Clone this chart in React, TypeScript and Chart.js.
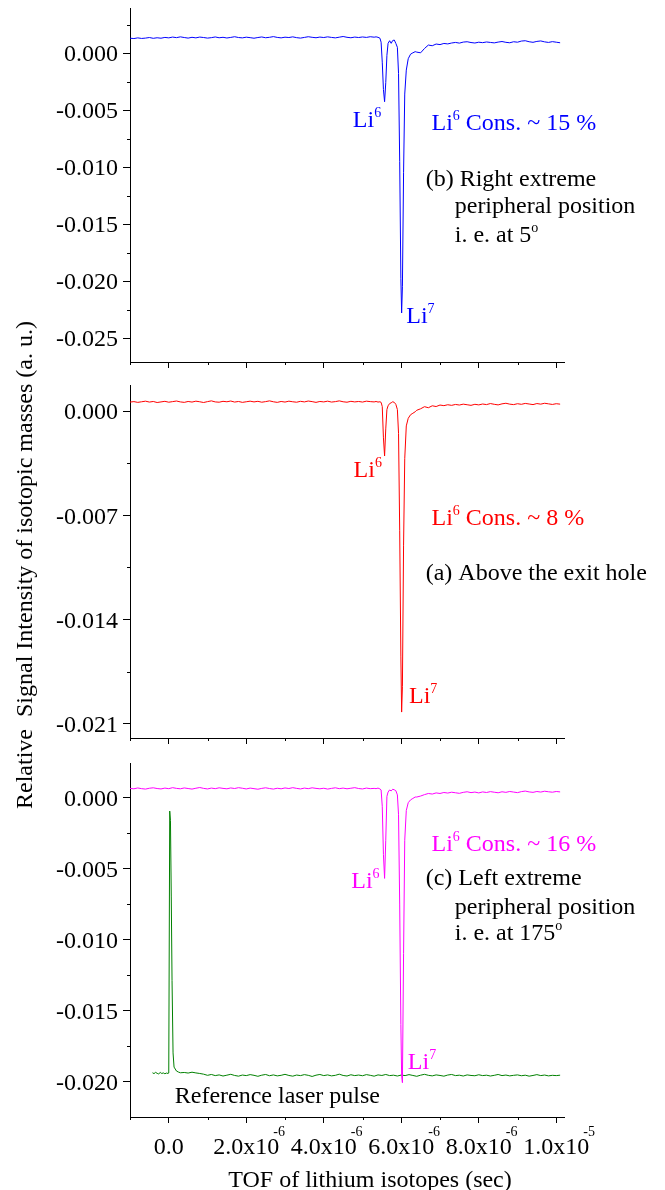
import React, { useEffect, useRef } from 'react';
import { Chart, registerables } from 'chart.js';

Chart.register(...registerables);

const FONT = '"Liberation Serif", "Times New Roman", serif';
const BLUE = '#0000ff';
const RED = '#ff0000';
const MAGENTA = '#ff00ff';
const GREEN = '#008000';
const BLACK = '#000000';

// Time of flight in microseconds (shared by the three isotope traces)
const TIME_US = [
  -1.0, -0.9, -0.8, -0.7, -0.6, -0.5, -0.4, -0.3, -0.2, -0.1,
  0.0, 0.1, 0.2, 0.3, 0.4, 0.5, 0.6, 0.7, 0.8, 0.9,
  1.0, 1.1, 1.2, 1.3, 1.4, 1.5, 1.6, 1.7, 1.8, 1.9,
  2.0, 2.1, 2.2, 2.3, 2.4, 2.5, 2.6, 2.7, 2.8, 2.9,
  3.0, 3.1, 3.2, 3.3, 3.4, 3.5, 3.6, 3.7, 3.8, 3.9,
  4.0, 4.1, 4.2, 4.3, 4.4, 4.5, 4.6, 4.7, 4.8, 4.9,
  5.0, 5.1, 5.2, 5.3,
  5.35, 5.40, 5.45, 5.48, 5.51, 5.54, 5.57, 5.60, 5.63, 5.66,
  5.70, 5.74, 5.78, 5.82, 5.86, 5.90, 5.93, 5.96, 5.99, 6.01,
  6.03, 6.06, 6.09, 6.13, 6.18, 6.24, 6.30, 6.36,
  6.4, 6.5, 6.6, 6.7, 6.8, 6.9, 7.0, 7.1, 7.2, 7.3,
  7.4, 7.5, 7.6, 7.7, 7.8, 7.9, 8.0, 8.1, 8.2, 8.3,
  8.4, 8.5, 8.6, 8.7, 8.8, 8.9, 9.0, 9.1, 9.2, 9.3,
  9.4, 9.5, 9.6, 9.7, 9.8, 9.9, 10.0, 10.1,
];

// (b) Right extreme peripheral position, signal in units of 1e-3
const SIGNAL_B = [
  1.30, 1.27, 1.33, 1.28, 1.31, 1.36, 1.29, 1.34, 1.30, 1.37,
  1.33, 1.40, 1.35, 1.42, 1.36, 1.31, 1.38, 1.33, 1.40, 1.36,
  1.31, 1.35, 1.41, 1.34, 1.38, 1.32, 1.37, 1.43, 1.36, 1.33,
  1.39, 1.35, 1.30, 1.36, 1.41, 1.34, 1.38, 1.44, 1.37, 1.33,
  1.39, 1.36, 1.42, 1.35, 1.31, 1.37, 1.43, 1.38, 1.34, 1.40,
  1.36, 1.42, 1.37, 1.33, 1.39, 1.45, 1.38, 1.34, 1.40, 1.36,
  1.41, 1.37, 1.43, 1.39,
  1.42, 1.38, 1.30, 0.95, -0.80, -3.20, -4.27, -2.60, -0.20, 0.85,
  1.08, 0.85, 1.10, 1.14, 0.85, 0.50, -1.80, -9.50, -19.80, -22.80,
  -20.50, -10.50, -3.60, -1.50, -0.50, -0.10, 0.02, 0.12,
  0.08, 0.02, 0.40, 0.70, 0.64, 0.79, 0.74, 0.84, 0.80, 0.88,
  0.93, 0.87, 0.96, 0.99, 0.92, 0.88, 0.95, 0.91, 0.97, 0.93,
  0.89, 0.96, 1.01, 0.94, 0.90, 0.99, 0.95, 1.05, 1.08, 0.99,
  0.94, 1.02, 1.06, 0.98, 0.93, 1.00, 0.95, 0.90,
];

// (a) Above the exit hole
const SIGNAL_A = [
  0.60, 0.63, 0.58, 0.62, 0.66, 0.60, 0.64, 0.57, 0.61, 0.65,
  0.59, 0.63, 0.67, 0.61, 0.58, 0.64, 0.60, 0.66, 0.62, 0.57,
  0.63, 0.68, 0.61, 0.59, 0.65, 0.62, 0.67, 0.60, 0.64, 0.58,
  0.62, 0.66, 0.61, 0.65, 0.59, 0.63, 0.68, 0.62, 0.58, 0.64,
  0.60, 0.66, 0.62, 0.59, 0.65, 0.61, 0.67, 0.63, 0.58, 0.64,
  0.61, 0.66, 0.60, 0.63, 0.68, 0.62, 0.59, 0.65, 0.61, 0.64,
  0.60, 0.66, 0.63, 0.61,
  0.64, 0.60, 0.62, 0.58, 0.30, -1.80, -3.02, -1.20, 0.10, 0.35,
  0.50, 0.55, 0.62, 0.58, 0.45, 0.10, -1.50, -8.00, -16.50, -20.20,
  -18.50, -9.00, -3.20, -1.00, -0.49, -0.25, -0.15, -0.05,
  0.05, 0.15, 0.29, 0.22, 0.35, 0.30, 0.40, 0.36, 0.42, 0.38,
  0.44, 0.40, 0.46, 0.42, 0.38, 0.45, 0.41, 0.47, 0.43, 0.50,
  0.45, 0.41, 0.48, 0.52, 0.46, 0.43, 0.49, 0.45, 0.51, 0.47,
  0.43, 0.50, 0.46, 0.52, 0.48, 0.44, 0.49, 0.46,
];

// (c) Left extreme peripheral position
const SIGNAL_C = [
  0.66, 0.63, 0.69, 0.64, 0.61, 0.67, 0.70, 0.65, 0.62, 0.68,
  0.64, 0.71, 0.66, 0.63, 0.69, 0.65, 0.61, 0.67, 0.72, 0.66,
  0.62, 0.68, 0.64, 0.70, 0.66, 0.63, 0.69, 0.65, 0.71, 0.67,
  0.62, 0.68, 0.64, 0.60, 0.66, 0.70, 0.65, 0.61, 0.67, 0.63,
  0.69, 0.65, 0.71, 0.66, 0.62, 0.68, 0.64, 0.70, 0.66, 0.63,
  0.67, 0.61, 0.66, 0.70, 0.64, 0.68, 0.63, 0.67, 0.71, 0.65,
  0.62, 0.68, 0.64, 0.66,
  0.64, 0.68, 0.62, 0.55, -0.60, -4.00, -5.69, -3.00, 0.10, 0.40,
  0.55, 0.48, 0.60, 0.56, 0.50, 0.20, -1.20, -7.50, -16.00, -19.60,
  -20.10, -11.00, -3.00, -0.90, -0.35, -0.15, -0.05, 0.05,
  0.05, 0.12, 0.22, 0.30, 0.26, 0.34, 0.30, 0.37, 0.33, 0.39,
  0.35, 0.31, 0.38, 0.42, 0.36, 0.40, 0.34, 0.41, 0.37, 0.43,
  0.39, 0.35, 0.42, 0.38, 0.44, 0.40, 0.36, 0.43, 0.47, 0.41,
  0.38, 0.44, 0.40, 0.46, 0.42, 0.39, 0.44, 0.41,
];

// Reference laser pulse
const PULSE_TIME_US = [
  -0.42, -0.38, -0.34, -0.30, -0.26, -0.22, -0.18, -0.14, -0.10, -0.06,
  -0.02, 0.00, 0.025, 0.044, 0.065, 0.085, 0.111, 0.137, 0.20, 0.25, 0.30,
  0.4, 0.5, 0.6, 0.7, 0.8, 0.9,
  1.0, 1.1, 1.2, 1.3, 1.4, 1.5, 1.6, 1.7, 1.8, 1.9,
  2.0, 2.1, 2.2, 2.3, 2.4, 2.5, 2.6, 2.7, 2.8, 2.9,
  3.0, 3.1, 3.2, 3.3, 3.4, 3.5, 3.6, 3.7, 3.8, 3.9,
  4.0, 4.1, 4.2, 4.3, 4.4, 4.5, 4.6, 4.7, 4.8, 4.9,
  5.0, 5.1, 5.2, 5.3, 5.4, 5.5, 5.6, 5.7, 5.8, 5.9,
  6.0, 6.1, 6.2, 6.3, 6.4, 6.5, 6.6, 6.7, 6.8, 6.9,
  7.0, 7.1, 7.2, 7.3, 7.4, 7.5, 7.6, 7.7, 7.8, 7.9,
  8.0, 8.1, 8.2, 8.3, 8.4, 8.5, 8.6, 8.7, 8.8, 8.9,
  9.0, 9.1, 9.2, 9.3, 9.4, 9.5, 9.6, 9.7, 9.8, 9.9,
  10.0, 10.1,
];
const PULSE_SIGNAL = [
  -19.40, -19.46, -19.37, -19.44, -19.48, -19.38, -19.45, -19.41, -19.47, -19.42,
  -19.45, -19.42, -0.94, -1.60, -7.00, -12.90, -18.00, -19.00, -19.28, -19.35, -19.40,
  -19.38, -19.42, -19.36, -19.41, -19.45, -19.50,
  -19.58, -19.52, -19.60, -19.55, -19.63, -19.57, -19.51, -19.59, -19.64, -19.56,
  -19.60, -19.53, -19.58, -19.65, -19.57, -19.52, -19.61, -19.55, -19.62, -19.58,
  -19.51, -19.59, -19.64, -19.56, -19.60, -19.53, -19.58, -19.66, -19.57, -19.52,
  -19.60, -19.55, -19.62, -19.58, -19.50, -19.59, -19.63, -19.54, -19.60, -19.56,
  -19.61, -19.53, -19.58, -19.64, -19.55, -19.59, -19.52, -19.60, -19.57, -19.63,
  -19.56, -19.60, -19.53, -19.59, -19.65, -19.57, -19.51, -19.58, -19.62, -19.55,
  -19.59, -19.64, -19.56, -19.52, -19.60, -19.57, -19.63, -19.55, -19.59, -19.61,
  -19.54, -19.60, -19.57, -19.63, -19.58, -19.52, -19.60, -19.56, -19.62, -19.58,
  -19.55, -19.61, -19.57, -19.64, -19.59, -19.53, -19.60, -19.56, -19.62, -19.58,
  -19.60, -19.57,
];

// Axis ticks
const X_MAJOR = [0, 2, 4, 6, 8, 10];
const X_MINOR = [-1, 1, 3, 5, 7, 9];
const X_TICK_BASE = ['0.0', '2.0x10', '4.0x10', '6.0x10', '8.0x10', '1.0x10'];
const X_TICK_EXP = ['', '-6', '-6', '-6', '-6', '-5'];
const Y_TICKS_B = [0, -5, -10, -15, -20, -25];
const Y_MINOR_B = [2.5, -2.5, -7.5, -12.5, -17.5, -22.5];
const Y_TICKS_A = [0, -7, -14, -21];
const Y_MINOR_A = [-3.5, -10.5, -17.5];
const Y_TICKS_C = [0, -5, -10, -15, -20];
const Y_MINOR_C = [-2.5, -7.5, -12.5, -17.5];

type Part = [string, boolean?];
interface Note { x: number; y: number; color: string; parts: Part[] }
interface Series { t: number[]; v: number[]; color: string }
interface Panel {
  top: number; height: number; padTop: number; xAxisH: number;
  yMin: number; yMax: number; yTicks: number[]; yMinor: number[];
  series: Series[]; notes: Note[]; xLabels: boolean;
}

const PANELS: Panel[] = [
  {
    top: 0, height: 385, padTop: 8, xAxisH: 23,
    yMin: -27.1, yMax: 3.95, yTicks: Y_TICKS_B, yMinor: Y_MINOR_B,
    series: [{ t: TIME_US, v: SIGNAL_B, color: BLUE }],
    xLabels: false,
    notes: [
      { x: 4.75, y: -6.5, color: BLUE, parts: [['Li'], ['6', true]] },
      { x: 6.78, y: -6.75, color: BLUE, parts: [['Li'], ['6', true], [' Cons. ~ 15 %']] },
      { x: 6.63, y: -11.64, color: BLACK, parts: [['(b) Right extreme']] },
      { x: 7.38, y: -14.06, color: BLACK, parts: [['peripheral position']] },
      { x: 7.38, y: -16.55, color: BLACK, parts: [['i. e. at 5'], ['o', true]] },
      { x: 6.13, y: -23.71, color: BLUE, parts: [['Li'], ['7', true]] },
    ],
  },
  {
    top: 375, height: 385, padTop: 10, xAxisH: 22,
    yMin: -21.94, yMax: 1.745, yTicks: Y_TICKS_A, yMinor: Y_MINOR_A,
    series: [{ t: TIME_US, v: SIGNAL_A, color: RED }],
    xLabels: false,
    notes: [
      { x: 4.77, y: -4.45, color: RED, parts: [['Li'], ['6', true]] },
      { x: 6.78, y: -7.65, color: RED, parts: [['Li'], ['6', true], [' Cons. ~ 8 %']] },
      { x: 6.63, y: -11.34, color: BLACK, parts: [['(a) Above the exit hole']] },
      { x: 6.2, y: -19.62, color: RED, parts: [['Li'], ['7', true]] },
    ],
  },
  {
    top: 750, height: 440, padTop: 13, xAxisH: 73,
    yMin: -22.52, yMax: 2.45, yTicks: Y_TICKS_C, yMinor: Y_MINOR_C,
    series: [
      { t: TIME_US, v: SIGNAL_C, color: MAGENTA },
      { t: PULSE_TIME_US, v: PULSE_SIGNAL, color: GREEN },
    ],
    xLabels: true,
    notes: [
      { x: 4.71, y: -6.36, color: MAGENTA, parts: [['Li'], ['6', true]] },
      { x: 6.78, y: -3.74, color: MAGENTA, parts: [['Li'], ['6', true], [' Cons. ~ 16 %']] },
      { x: 6.63, y: -6.17, color: BLACK, parts: [['(c) Left extreme']] },
      { x: 7.38, y: -8.17, color: BLACK, parts: [['peripheral position']] },
      { x: 7.38, y: -10.05, color: BLACK, parts: [['i. e. at 175'], ['o', true]] },
      { x: 6.17, y: -19.11, color: MAGENTA, parts: [['Li'], ['7', true]] },
      { x: 0.155, y: -21.56, color: BLACK, parts: [['Reference laser pulse']] },
    ],
  },
];

function drawRich(ctx: CanvasRenderingContext2D, x: number, y: number, parts: Part[], color: string) {
  ctx.fillStyle = color;
  ctx.textAlign = 'left';
  ctx.textBaseline = 'alphabetic';
  let cx = x;
  for (const [text, sup] of parts) {
    ctx.font = sup ? `14px ${FONT}` : `24px ${FONT}`;
    ctx.fillText(text, cx, sup ? y - 10 : y);
    cx += ctx.measureText(text).width;
  }
}

function makeDecor(panel: Panel) {
  return {
    id: 'decor',
    afterDraw(chart: any) {
      const ctx: CanvasRenderingContext2D = chart.ctx;
      const xs = chart.scales.x;
      const ys = chart.scales.y;
      const { left, right, bottom } = chart.chartArea;
      ctx.save();
      ctx.strokeStyle = BLACK;
      ctx.lineWidth = 1;
      ctx.beginPath();
      X_MINOR.forEach((v) => {
        const p = Math.round(xs.getPixelForValue(v)) + 0.5;
        ctx.moveTo(p, bottom);
        ctx.lineTo(p, bottom + 3);
      });
      panel.yMinor.forEach((v) => {
        const p = Math.round(ys.getPixelForValue(v)) + 0.5;
        ctx.moveTo(left - 3, p);
        ctx.lineTo(left, p);
      });
      ctx.stroke();
      panel.notes.forEach((n) => drawRich(ctx, xs.getPixelForValue(n.x), ys.getPixelForValue(n.y), n.parts, n.color));
      if (panel.xLabels) {
        ctx.fillStyle = BLACK;
        X_MAJOR.forEach((v, i) => {
          const px = xs.getPixelForValue(v);
          ctx.font = `24px ${FONT}`;
          ctx.textAlign = 'center';
          ctx.textBaseline = 'alphabetic';
          ctx.fillText(X_TICK_BASE[i], px, bottom + 36.5);
          const w = ctx.measureText(X_TICK_BASE[i]).width;
          if (X_TICK_EXP[i]) {
            ctx.font = `14px ${FONT}`;
            ctx.textAlign = 'left';
            ctx.fillText(X_TICK_EXP[i], px + w / 2 - 6, bottom + 18.5);
          }
        });
        ctx.font = `24px ${FONT}`;
        ctx.textAlign = 'center';
        ctx.fillText('TOF of lithium isotopes (sec)', (left + right) / 2 + 23, bottom + 70);
      }
      ctx.restore();
    },
  };
}

function PanelChart({ panel }: { panel: Panel }) {
  const ref = useRef<HTMLCanvasElement | null>(null);
  useEffect(() => {
    if (!ref.current) return;
    const chart = new Chart(ref.current, {
      type: 'line',
      data: {
        datasets: panel.series.map((s) => ({
          data: s.t.map((t, i) => ({ x: t, y: s.v[i] })),
          borderColor: s.color,
          borderWidth: 1,
          pointRadius: 0,
          tension: 0,
          fill: false,
          borderJoinStyle: 'round' as const,
        })),
      },
      options: {
        animation: false,
        responsive: false,
        maintainAspectRatio: false,
        devicePixelRatio: 1,
        events: [],
        layout: { padding: { top: panel.padTop, left: 0, right: 101, bottom: 0 } },
        plugins: { legend: { display: false }, tooltip: { enabled: false }, title: { display: false } },
        scales: {
          x: {
            type: 'linear',
            min: -1,
            max: 10.2,
            border: { display: true, color: BLACK, width: 1 },
            grid: { display: true, drawOnChartArea: false, drawTicks: true, tickLength: 6, color: BLACK, lineWidth: 1 },
            ticks: { display: false },
            afterBuildTicks: (s: any) => { s.ticks = X_MAJOR.map((v) => ({ value: v })); },
            afterFit: (s: any) => { s.height = panel.xAxisH; s.paddingLeft = 0; s.paddingRight = 0; },
          },
          y: {
            type: 'linear',
            position: 'left',
            min: panel.yMin,
            max: panel.yMax,
            border: { display: true, color: BLACK, width: 1 },
            grid: { display: true, drawOnChartArea: false, drawTicks: true, tickLength: 7, color: BLACK, lineWidth: 1 },
            ticks: {
              color: BLACK,
              padding: 5,
              labelOffset: 2,
              font: { family: FONT, size: 24 },
              callback: (v: any) => (Number(v) / 1000).toFixed(3),
            },
            afterBuildTicks: (s: any) => { s.ticks = panel.yTicks.map((v) => ({ value: v })); },
            afterFit: (s: any) => { s.width = 130; s.paddingTop = 0; s.paddingBottom = 0; },
          },
        },
      } as any,
      plugins: [makeDecor(panel)],
    });
    return () => chart.destroy();
  }, [panel]);
  return (
    <canvas
      ref={ref}
      width={665}
      height={panel.height}
      style={{ position: 'absolute', left: 0, top: panel.top, width: 665, height: panel.height, display: 'block' }}
    />
  );
}

export default function App() {
  return (
    <div style={{ position: 'absolute', left: 0, top: 0, width: 665, height: 1190, background: '#ffffff', overflow: 'hidden' }}>
      {PANELS.map((p, i) => (
        <PanelChart key={i} panel={p} />
      ))}
      <div
        style={{
          position: 'absolute', left: -276, top: 551, width: 600, height: 28, lineHeight: '28px',
          fontSize: 24, fontFamily: FONT, textAlign: 'center', transform: 'rotate(-90deg)',
          whiteSpace: 'pre', color: BLACK,
        }}
      >
        {'Relative  Signal Intensity of isotopic masses (a. u.)'}
      </div>
    </div>
  );
}
